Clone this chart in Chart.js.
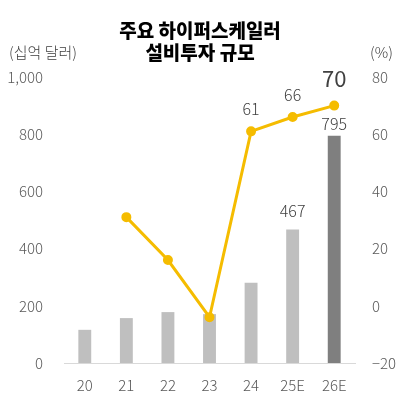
<!DOCTYPE html>
<html>
<head>
<meta charset="utf-8">
<script src="https://cdn.jsdelivr.net/npm/chart.js@4"></script>
<style>
  html, body { margin: 0; padding: 0; background: #fff; }
  #wrap { width: 400px; height: 399px; }
</style>
</head>
<body>
<div id="wrap"><canvas id="chart" width="400" height="399"></canvas></div>
<script>
const years = ["20", "21", "22", "23", "24", "25E", "26E"];
const capex = [116, 157, 178, 171, 281, 467, 795];      // 십억 달러
const growth = [null, 31, 16, -4, 61, 66, 70];           // %
const barColors = ["#bfbfbf", "#bfbfbf", "#bfbfbf", "#bfbfbf", "#bfbfbf", "#bfbfbf", "#7f7f7f"];
const leftTicks = [0, 200, 400, 600, 800, 1000];
const rightTicks = [-20, 0, 20, 40, 60, 80];
const barLabelIdx = [5, 6];
const lineLabelIdx = [4, 5, 6];

const FONT = "'Noto Sans CJK KR', 'Noto Sans', sans-serif";

const labelsPlugin = {
  id: "labels",
  afterDatasetsDraw(chart) {
    const ctx = chart.ctx;
    ctx.save();
    ctx.textAlign = "center";
    ctx.textBaseline = "middle";
    ctx.fillStyle = "#404040";

    const bars = chart.getDatasetMeta(1).data;
    barLabelIdx.forEach((i) => {
      const off = i === 6 ? 12 : 19;
      ctx.font = "300 16px " + FONT;
      ctx.fillText(capex[i], bars[i].x, bars[i].y - off);
    });

    const pts = chart.getDatasetMeta(0).data;
    lineLabelIdx.forEach((i) => {
      const big = i === 6;
      ctx.font = (big ? "400 22px " : "300 16px ") + FONT;
      ctx.fillText(growth[i], pts[i].x, pts[i].y - (big ? 27 : 22));
    });
    ctx.restore();
  },
  afterDraw(chart) {
    const ctx = chart.ctx;
    ctx.save();
    ctx.fillStyle = "#000";
    ctx.textAlign = "center";
    ctx.textBaseline = "middle";
    ctx.font = "900 19px " + FONT;
    ctx.fillText("주요 하이퍼스케일러", 200, 31);
    ctx.fillText("설비투자 규모", 200, 53);

    ctx.fillStyle = "#404040";
    ctx.font = "300 15px " + FONT;
    ctx.textAlign = "left";
    ctx.fillText("(십억 달러)", 9, 52);
    ctx.fillText("(%)", 370, 52);
    ctx.restore();
  }
};

const tickFont = { family: FONT, size: 15, weight: 300 };

new Chart(document.getElementById("chart"), {
  data: {
    labels: years,
    datasets: [
      {
        type: "line",
        data: growth,
        yAxisID: "y1",
        borderColor: "#f5bc00",
        backgroundColor: "#f5bc00",
        borderWidth: 3,
        pointRadius: 3.5,
        pointHoverRadius: 3.5,
        tension: 0,
        spanGaps: false,
        order: 0
      },
      {
        type: "bar",
        data: capex,
        yAxisID: "y",
        backgroundColor: barColors,
        categoryPercentage: 1,
        barPercentage: 0.31,
        order: 1
      }
    ]
  },
  options: {
    responsive: false,
    animation: false,
    layout: { padding: { top: 77, bottom: 0, left: 0, right: 0 } },
    plugins: {
      legend: { display: false },
      tooltip: { enabled: false }
    },
    scales: {
      x: {
        grid: { display: false, drawTicks: false },
        border: { display: true, color: "#d9d9d9", width: 1 },
        ticks: { color: "#595959", font: tickFont, padding: 13 },
        afterFit: (s) => { s.height = 36; }
      },
      y: {
        position: "left",
        min: 0,
        max: 1000,
        grid: { display: false, drawTicks: false },
        border: { display: false },
        afterBuildTicks: (s) => { s.ticks = leftTicks.map((v) => ({ value: v })); },
        ticks: {
          color: "#595959",
          font: tickFont,
          padding: 21,
          callback: (v) => v.toLocaleString("en-US")
        },
        afterFit: (s) => { s.width = 64; }
      },
      y1: {
        position: "right",
        min: -20,
        max: 80,
        grid: { display: false, drawTicks: false },
        border: { display: false },
        afterBuildTicks: (s) => { s.ticks = rightTicks.map((v) => ({ value: v })); },
        ticks: {
          color: "#595959",
          font: tickFont,
          padding: 17,
          callback: (v) => (v < 0 ? "\u2212" + Math.abs(v) : v)
        },
        afterFit: (s) => { s.width = 45; }
      }
    }
  },
  plugins: [labelsPlugin]
});
</script>
</body>
</html>
